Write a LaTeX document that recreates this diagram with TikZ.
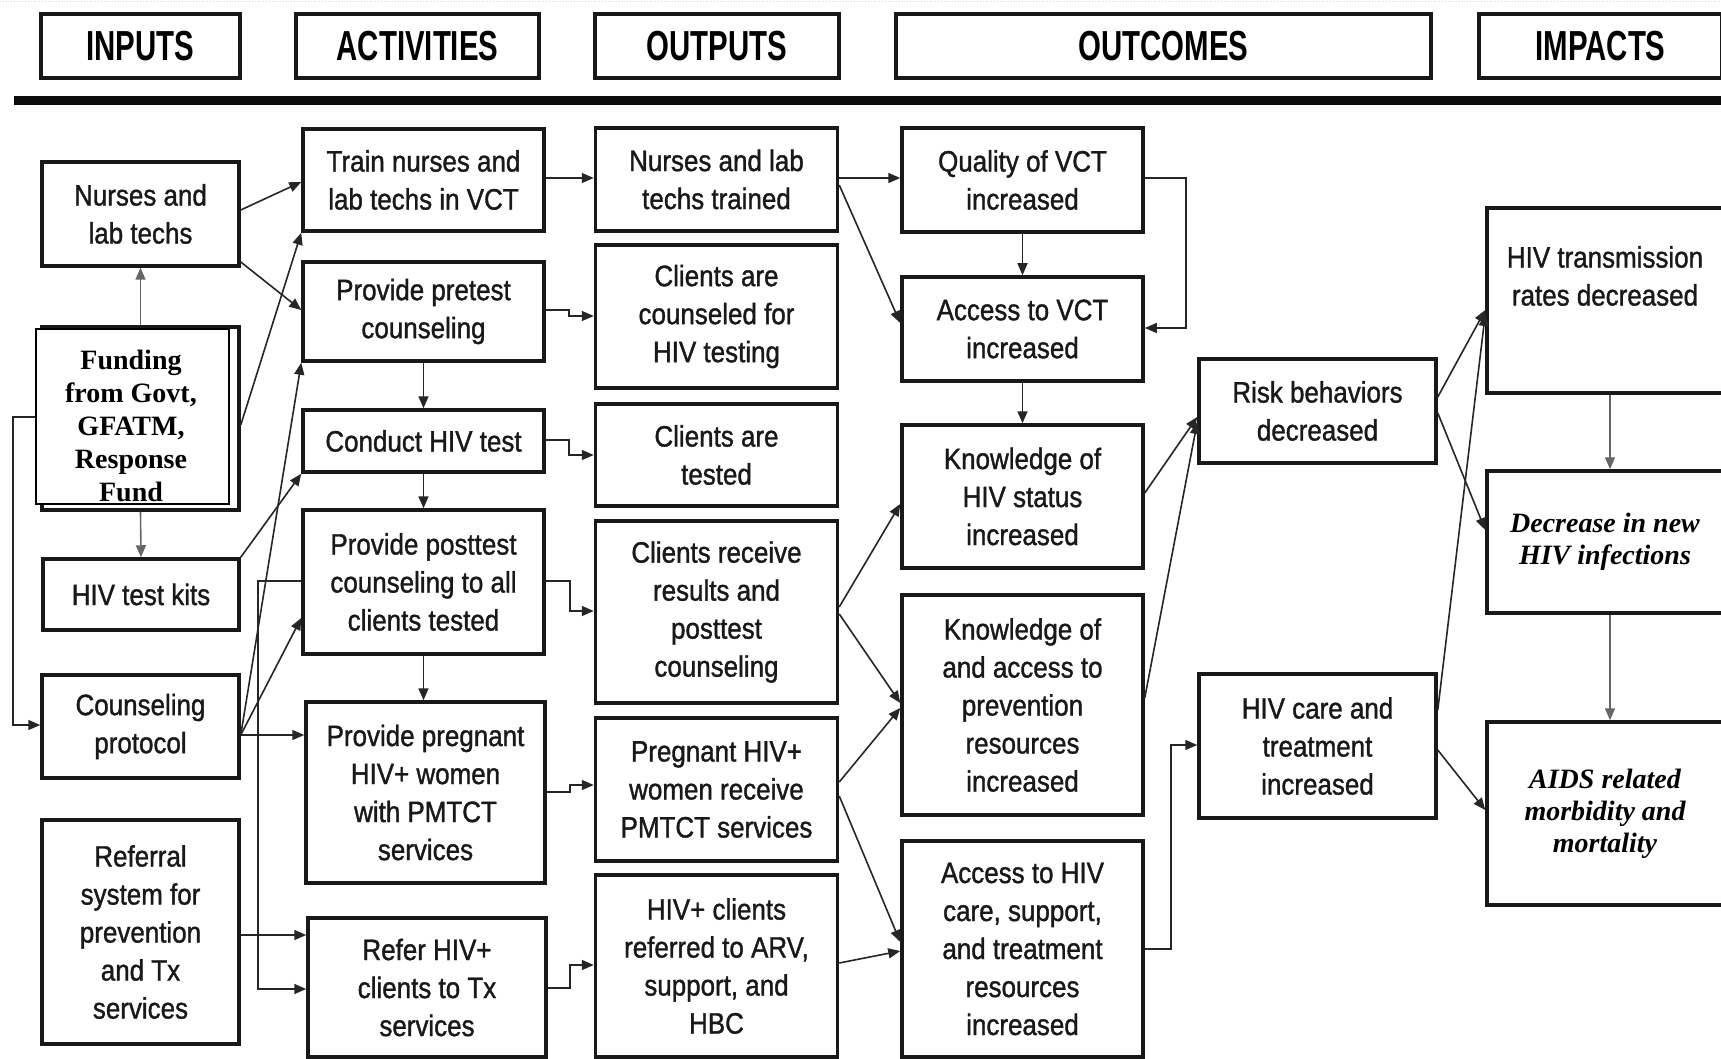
\documentclass[tikz,border=0pt]{standalone}
\usepackage{fontspec}
\usetikzlibrary{arrows.meta,calc}
\newfontfamily\bodyfont{Liberation Sans}[FakeStretch=0.88,FakeBold=1.2]
\newfontfamily\hdfont{Liberation Sans}[FakeStretch=0.7]
\newfontfamily\serfont{Liberation Serif}

\tikzset{
  box/.style={draw=black!90, line width=3.5pt, inner sep=0pt, align=center,
    fill=white, text=black!90, font=\bodyfont\fontsize{29.5}{38}\selectfont},
  headbox/.style={draw=black!90, line width=3.5pt, inner sep=0pt, align=center,
    minimum height=64pt, font=\hdfont\bfseries\fontsize{42}{46}\selectfont},
  serbox/.style={box, font=\serfont\bfseries\itshape\fontsize{28}{32}\selectfont, text=black},
  arr/.style={draw=black!85, line width=1.6pt, -{Triangle[length=12pt,width=10pt]}},
  garr/.style={arr, draw=black!60},
}

\begin{document}
\begin{tikzpicture}[x=1pt,y=-1pt]
\fill[white] (0,0) rectangle (1721,1059);
\useasboundingbox (0,0) rectangle (1721,1059);

% faint dotted rule along the top edge
\draw[black!15, dotted, line width=0.8pt] (0,1.5) -- (1721,1.5);

% column headings
\node[headbox, minimum width=199pt] (hin)   at (140.5,46)  {INPUTS};
\node[headbox, minimum width=243pt] (hact)  at (417.5,46)  {ACTIVITIES};
\node[headbox, minimum width=244pt] (hout)  at (717,46)    {OUTPUTS};
\node[headbox, minimum width=535pt] (houtc) at (1163.5,46) {OUTCOMES};
\node[headbox, minimum width=243pt] (himp)  at (1600.5,46) {IMPACTS};
\draw[line width=9pt, black!95] (14,100.5) -- (1730,100.5);

% inputs
\node[box, minimum width=197pt, minimum height=104pt] (nlt) at (140.5,214) {Nurses and\\lab techs};
\node[box, minimum width=197pt, minimum height=183pt] (fundback) at (140.5,418.5) {};
\node[draw=black, line width=2pt, fill=white, minimum width=193pt, minimum height=175pt, inner sep=0pt] (fund) at (132.5,416.5) {};
\node[align=center, font=\serfont\bfseries\fontsize{28}{33}\selectfont, inner sep=0pt] (fundtxt) at (131,426)
  {Funding\\from Govt,\\GFATM,\\Response\\Fund};
\node[box, minimum width=196pt, minimum height=71pt]  (kits)   at (141,594.5) {HIV test kits};
\node[box, minimum width=197pt, minimum height=103pt] (coun)   at (140.5,726.5) {Counseling\\protocol};
\node[box, minimum width=197pt, minimum height=224pt] (refsys) at (140.5,932) {Referral\\system for\\prevention\\and Tx\\services};

% activities
\node[box, minimum width=241pt, minimum height=102pt] (train)   at (423.5,180)   {Train nurses and\\lab techs in VCT};
\node[box, minimum width=241pt, minimum height=99pt]  (pre)     at (423.5,311.5) {Provide pretest\\counseling};
\node[box, minimum width=241pt, minimum height=62pt]  (conduct) at (423.5,441)   {Conduct HIV test};
\node[box, minimum width=241pt, minimum height=144pt] (post)    at (423.5,582)   {Provide posttest\\counseling to all\\clients tested};
\node[box, minimum width=239pt, minimum height=181pt] (preg)    at (425.5,792.5) {Provide pregnant\\HIV+ women\\with PMTCT\\services};
\node[box, minimum width=238pt, minimum height=139pt] (refer)   at (427,987.5)   {Refer HIV+\\clients to Tx\\services};

% outputs
\node[box, minimum width=242pt, minimum height=103pt] (trained)   at (716.5,179.5) {Nurses and lab\\techs trained};
\node[box, minimum width=242pt, minimum height=143pt] (counseled) at (716.5,316.5) {Clients are\\counseled for\\HIV testing};
\node[box, minimum width=242pt, minimum height=102pt] (tested)    at (716.5,455)   {Clients are\\tested};
\node[box, minimum width=242pt, minimum height=182pt] (receive)   at (716.5,612)   {Clients receive\\results and\\posttest\\counseling};
\node[box, minimum width=242pt, minimum height=143pt] (pregw)     at (716.5,789.5) {Pregnant HIV+\\women receive\\PMTCT services};
\node[box, minimum width=242pt, minimum height=182pt] (refd)      at (716.5,966)   {HIV+ clients\\referred to ARV,\\support, and\\HBC};

% outcomes
\node[box, minimum width=241pt, minimum height=104pt] (quality) at (1022.5,180)   {Quality of VCT\\increased};
\node[box, minimum width=241pt, minimum height=104pt] (access)  at (1022.5,329)   {Access to VCT\\increased};
\node[box, minimum width=241pt, minimum height=143pt] (kstatus) at (1022.5,496.5) {Knowledge of\\HIV status\\increased};
\node[box, minimum width=241pt, minimum height=220pt] (kaccess) at (1022.5,705)   {Knowledge of\\and access to\\prevention\\resources\\increased};
\node[box, minimum width=241pt, minimum height=216pt] (care)    at (1022.5,949)   {Access to HIV\\care, support,\\and treatment\\resources\\increased};
\node[box, minimum width=237pt, minimum height=104pt] (risk)    at (1317.5,411)   {Risk behaviors\\decreased};
\node[box, minimum width=237pt, minimum height=144pt] (hct)     at (1317.5,746)   {HIV care and\\treatment\\increased};

% impacts
\node[box, minimum width=236pt, minimum height=185pt] (trans) at (1605,300.5) {};
\node[align=center, inner sep=0pt, text=black!90, font=\bodyfont\fontsize{29.5}{38}\selectfont] (transtxt) at (1605,276)
  {HIV transmission\\rates decreased};
\node[serbox, minimum width=236pt, minimum height=142pt] (newinf) at (1605,542)   {Decrease in new\\HIV infections};
\node[serbox, minimum width=236pt, minimum height=183pt] (aids)   at (1605,813.5) {AIDS related\\morbidity and\\mortality};

% inputs to activities
\draw[arr] (nlt.east |- 0,210) -- (train.west |- 0,182);
\draw[arr] (nlt.east |- 0,262) -- (pre.west |- 0,310);
\draw[arr] (fundback.east |- 0,425) -- (train.south west);
\draw[garr] (fundback.north) -- (nlt.south);
\draw[garr] (fundback.south) -- (kits.north);
\draw[arr] (fund.west |- 0,417) -- (13,417) |- (coun.west |- 0,725);
\draw[arr] (kits.north east) -- (conduct.south west);
\coordinate (cp) at (coun.east |- 0,735);
\draw[arr] (cp) -- (pre.south west);
\draw[arr] (cp) -- (post.west |- 0,618);
\draw[arr] (cp) -- (preg.west |- 0,735);
\draw[arr] (post.west |- 0,581) -| (258,989) -- (refer.west |- 0,989);
\draw[arr] (refsys.east |- 0,935) -- (refer.west |- 0,935);

% activity chain
\draw[arr] (pre.south) -- (conduct.north);
\draw[arr] (conduct.south) -- (post.north);
\draw[arr] (post.south) -- (preg.north -| post.south);

% activities to outputs
\draw[arr] (train.east |- 0,178) -- (trained.west |- 0,178);
\draw[arr] (pre.east |- 0,310) -- (569,310) -- (569,316) -- (counseled.west |- 0,316);
\draw[arr] (conduct.east |- 0,440) -- (569,440) -- (569,455) -- (tested.west |- 0,455);
\draw[arr] (post.east |- 0,581) -- (570,581) -- (570,611) -- (receive.west |- 0,611);
\draw[arr] (preg.east |- 0,792) -- (570,792) -- (570,785) -- (pregw.west |- 0,785);
\draw[arr] (refer.east |- 0,988) -- (570,988) -- (570,965) -- (refd.west |- 0,965);

% outputs to outcomes
\draw[arr] (trained.east |- 0,178) -- (quality.west |- 0,178);
\draw[arr] (trained.east |- 0,185) -- (access.west |- 0,323);
\draw[arr] (quality.south) -- (access.north);
\draw[arr] (quality.east |- 0,178) -- (1186,178) -- (1186,328) -- (access.east |- 0,328);
\draw[arr] (access.south) -- (kstatus.north);
\draw[arr] (receive.east |- 0,607) -- (kstatus.west |- 0,504);
\draw[arr] (receive.east |- 0,614) -- (kaccess.west |- 0,703);
\draw[arr] (pregw.east |- 0,782) -- (kaccess.west |- 0,708);
\draw[arr] (pregw.east |- 0,796) -- (care.west |- 0,942);
\draw[arr] (refd.east |- 0,963) -- (care.west |- 0,951);

% outcomes to later outcomes
\draw[arr] (kstatus.east |- 0,493) -- (risk.west |- 0,417);
\draw[arr] (kaccess.east |- 0,698) -- (risk.west |- 0,422);
\draw[arr] (care.east |- 0,949) -- (1171,949) -- (1171,745) -- (hct.west |- 0,745);

% outcomes to impacts
\draw[arr] (risk.east |- 0,397) -- (trans.west |- 0,310);
\draw[arr] (risk.east |- 0,413) -- (newinf.west |- 0,530);
\draw[arr] (hct.east |- 0,710) -- (trans.west |- 0,314);
\draw[arr] (hct.east |- 0,750) -- (aids.west |- 0,810);
\draw[garr] (trans.south -| 1610,0) -- (newinf.north -| 1610,0);
\draw[garr] (newinf.south -| 1610,0) -- (aids.north -| 1610,0);
\end{tikzpicture}
\end{document}
